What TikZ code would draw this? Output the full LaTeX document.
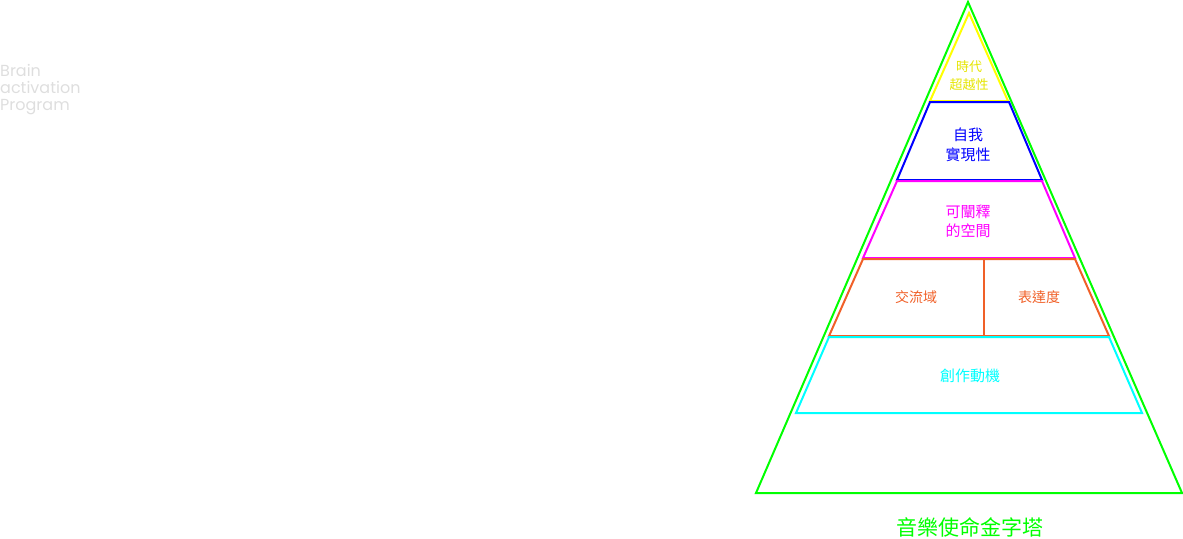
\documentclass[tikz,border=0pt]{standalone}
\usepackage{fontspec}
\newfontfamily\cjk{Noto Sans CJK TC}
\newfontfamily\logofont{Poppins}
\definecolor{pyrgreen}{RGB}{0,255,0}
\definecolor{pyryellow}{RGB}{255,255,0}
\definecolor{pyrblue}{RGB}{0,0,255}
\definecolor{pyrmagenta}{RGB}{255,0,255}
\definecolor{pyrorange}{RGB}{240,96,40}
\definecolor{pyrcyan}{RGB}{0,255,255}
\definecolor{logogray}{RGB}{222,222,222}
\tikzset{
  tier/.style={line width=2pt, line join=miter},
  tierlabel/.style 2 args={font=\cjk\fontsize{#1}{#2}\selectfont, align=center, inner sep=0pt}
}
\begin{document}
\begin{tikzpicture}[x=1pt,y=-1pt]
\useasboundingbox (0,0) rectangle (1183,538);

\draw [tier, pyrgreen] (968,2) -- (1182,493) -- (756,493) -- cycle;
\draw [tier, pyryellow] (969,13) -- (1008,101) -- (930,101) -- cycle;
\draw [tier, pyrblue] (930,102) -- (1009,102) -- (1042,180) -- (897,180) -- cycle;
\draw [tier, pyrmagenta] (897,181) -- (1042,181) -- (1075,258) -- (863,258) -- cycle;
\draw [tier, pyrorange] (863,259) -- (1075,259) -- (1109,336) -- (829,336) -- cycle;
\draw [tier, pyrorange] (984,259) -- (984,336);
\draw [tier, pyrcyan] (829,337) -- (1109,337) -- (1142,413) -- (796,413) -- cycle;

\node (logo) at (0,90) [anchor=west, align=left, inner sep=0pt, text=logogray,
  font=\logofont\fontsize{16}{17}\selectfont] {Brain\\activation\\Program};

\node (era) at (969,76) [tierlabel={13}{18}, text=pyryellow!90!black] {時代\\超越性};
\node (self) at (968,145) [tierlabel={15}{20}, text=pyrblue] {自我\\實現性};
\node (space) at (968,221) [tierlabel={15}{19}, text=pyrmagenta] {可闡釋\\的空間};
\node (exchange) at (916,297) [tierlabel={14}{18}, text=pyrorange] {交流域};
\node (express) at (1039,297) [tierlabel={14}{18}, text=pyrorange] {表達度};
\node (motive) at (970,376) [tierlabel={15}{19}, text=pyrcyan] {創作動機};
\node (title) at (970,527) [tierlabel={21}{25}, text=pyrgreen] {音樂使命金字塔};

\end{tikzpicture}
\end{document}
